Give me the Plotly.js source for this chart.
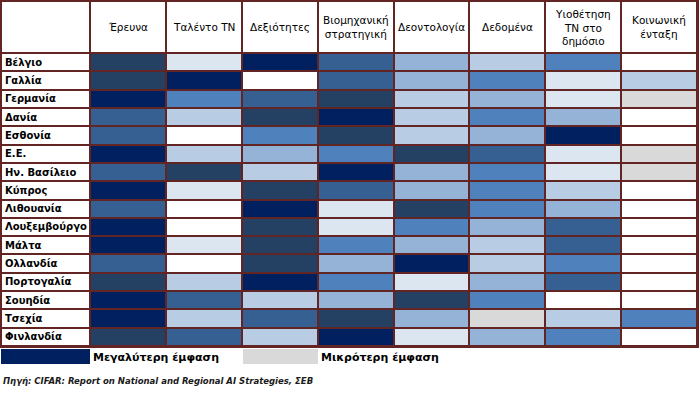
<!DOCTYPE html>
<html><head><meta charset="utf-8">
<script src="https://cdn.plot.ly/plotly-3.0.1.min.js"></script>
<style>html,body{margin:0;padding:0;background:#fff}#chart{width:700px;height:394px}</style>
</head><body><div id="chart"></div>
<script>
// ---- data ----
const countries = ["Βέλγιο","Γαλλία","Γερμανία","Δανία","Εσθονία","Ε.Ε.","Ην. Βασίλειο","Κύπρος","Λιθουανία","Λουξεμβούργο","Μάλτα","Ολλανδία","Πορτογαλία","Σουηδία","Τσεχία","Φινλανδία"];
const columns = ["Έρευνα","Ταλέντο ΤΝ","Δεξιότητες","Βιομηχανική<br>στρατηγική","Δεοντολογία","Δεδομένα","Υιοθέτηση<br>ΤΝ στο<br>δημόσιο","Κοινωνική<br>ένταξη"];
// emphasis level: 1 = greatest (navy) ... 7 = lightest blue, 8 = smaller emphasis (grey), 0 = none (white)
const research    = [2,2,1,3,3,1,3,1,3,1,1,3,2,1,1,2];
const talent      = [7,1,4,6,0,6,2,7,0,0,7,0,6,3,6,3];
const skills      = [1,0,3,2,4,5,6,2,1,2,2,2,1,6,3,6];
const industrial  = [3,3,2,1,2,4,1,3,7,7,4,5,4,5,2,1];
const ethics      = [5,5,6,6,6,2,5,5,2,4,5,1,7,2,5,7];
const dataCol     = [6,4,5,4,5,3,4,4,4,5,6,6,5,4,8,5];
const publicAdopt = [4,7,7,5,1,7,7,6,5,3,3,4,3,0,6,4];
const inclusion   = [0,6,8,0,0,8,8,0,0,0,0,0,0,0,4,0];
const legendLabels = ["Μεγαλύτερη έμφαση","Μικρότερη έμφαση"];
const sourceText = "Πηγή: CIFAR: Report on National and Regional AI Strategies, ΣΕΒ";

// ---- styling ----
const levelColors = ["#FFFFFF","#002060","#244062","#366092","#4F81BD","#95B3D7","#B8CCE4","#DCE6F1","#D9D9D9"];
const border = "#632523";
const series = [research,talent,skills,industrial,ethics,dataCol,publicAdopt,inclusion];

// geometry (axis units = pixels of the plot area)
const labelW = 89, colW = (696-89)/8, headH = 52, rowH = (345-52)/16;
const xEdges = [0]; for (let i=0;i<=8;i++) xEdges.push(labelW + i*colW);
const yEdges = [0]; for (let j=0;j<=16;j++) yEdges.push(headH + j*rowH);

const z = [];
z.push(new Array(9).fill(0));
for (let r=0;r<countries.length;r++){
  const row=[0];
  for (let c=0;c<series.length;c++) row.push(series[c][r]);
  z.push(row);
}
const n = levelColors.length;
const colorscale = [];
levelColors.forEach((col,i)=>{colorscale.push([i/n,col]);colorscale.push([(i+1)/n,col]);});

const font = "'DejaVu Sans', sans-serif";
const annotations = [];
columns.forEach((t,i)=>{
  annotations.push({x:(xEdges[i+1]+xEdges[i+2])/2, y:headH/2, xref:'x', yref:'y', text:t, showarrow:false,
    font:{family:font,size:10.5,color:'#000'}, align:'center'});
});
countries.forEach((t,j)=>{
  annotations.push({x:2, y:(yEdges[j+1]+yEdges[j+2])/2, xref:'x', yref:'y', text:'<b>'+t+'</b>', showarrow:false,
    xanchor:'left', font:{family:font,size:10,color:'#000'}});
});

// legend + source below the table (paper coords)
const L=1, T=1, W=696, H=345;
const px=x=>(x-L)/W, py=y=>1-(y-T)/H;
const shapes = [
  {type:'rect',xref:'paper',yref:'paper',x0:px(1),x1:px(90),y0:py(349),y1:py(364),fillcolor:levelColors[1],line:{width:0}},
  {type:'rect',xref:'paper',yref:'paper',x0:px(243),x1:px(318),y0:py(349),y1:py(364),fillcolor:levelColors[8],line:{width:0}}
];
annotations.push({xref:'paper',yref:'paper',x:px(91),y:py(357),xanchor:'left',yanchor:'middle',showarrow:false,
  text:'<b>'+legendLabels[0]+'</b>',font:{family:font,size:11,color:'#000'}});
annotations.push({xref:'paper',yref:'paper',x:px(319),y:py(357),xanchor:'left',yanchor:'middle',showarrow:false,
  text:'<b>'+legendLabels[1]+'</b>',font:{family:font,size:11,color:'#000'}});
annotations.push({xref:'paper',yref:'paper',x:px(1),y:py(381),xanchor:'left',yanchor:'middle',showarrow:false,
  text:'<b><i>'+sourceText+'</i></b>',font:{family:font,size:8.5,color:'#1a1a1a'}});

const trace = {type:'heatmap', x:xEdges, y:yEdges, z:z, colorscale:colorscale, zmin:-0.5, zmax:n-0.5,
  showscale:false, xgap:2, ygap:2, hoverinfo:'skip'};

const layout = {width:700,height:394,margin:{l:L,r:700-L-W,t:T,b:394-T-H,pad:0},
  paper_bgcolor:'#fff', plot_bgcolor:border,
  xaxis:{range:[0,696],showgrid:false,zeroline:false,showticklabels:false,ticks:'',showline:true,mirror:true,linecolor:border,linewidth:2,fixedrange:true},
  yaxis:{range:[345,0],showgrid:false,zeroline:false,showticklabels:false,ticks:'',showline:true,mirror:true,linecolor:border,linewidth:2,fixedrange:true},
  annotations:annotations, shapes:shapes, showlegend:false};
Plotly.newPlot('chart',[trace],layout,{displayModeBar:false,staticPlot:true});
</script></body></html>
